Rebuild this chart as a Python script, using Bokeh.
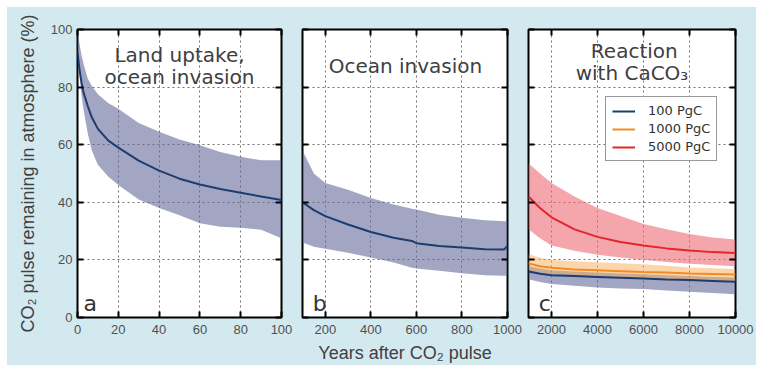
from bokeh.plotting import figure
from bokeh.layouts import row
from bokeh.models import (Range1d, LinearAxis, FixedTicker, CustomJSTickFormatter,
                          Legend, LegendItem)
from bokeh.core.properties import value
from bokeh.embed import file_html
from bokeh.resources import INLINE

# ---------------- data ----------------
years_a = [0, 1, 2, 3, 5, 7, 10, 15, 20, 30, 40, 50, 60, 70, 80, 90, 100]
mean_a = [92, 86, 81.5, 78, 73.5, 69.5, 65.5, 61.5, 59, 54.5, 51, 48.2, 46.2, 44.6, 43.3, 42, 40.8]
upper_a = [100, 95, 91, 88, 83, 80.5, 77.5, 74.5, 72.5, 67.5, 64.5, 61.8, 59.8, 57.5, 55.8, 54.6, 54.6]
lower_a = [92, 84, 77, 72, 64, 58, 53, 49, 46, 41, 38, 35.5, 32.7, 31.5, 31.2, 30.5, 27.5]

years_b = [100, 150, 200, 300, 400, 500, 580, 600, 700, 800, 900, 985, 1000]
mean_b = [40, 37.3, 35.2, 32.3, 29.7, 27.7, 26.6, 25.8, 24.8, 24.3, 23.7, 23.6, 24.8]
upper_b = [58, 50, 46.7, 44.4, 41.5, 39.2, 37.8, 37.5, 35.7, 34.6, 33.8, 33.4, 33.4]
lower_b = [26, 24.6, 23.9, 22.5, 20.8, 19.1, 17.3, 17, 16.2, 15.4, 14.7, 14.5, 14.5]

years_c = [1000, 1500, 2000, 3000, 4000, 5000, 6000, 7000, 8000, 9000, 10000]
mean_100 = [16, 15.2, 14.7, 14.4, 14.1, 13.8, 13.5, 13.2, 13, 12.7, 12.4]
upper_100 = [17.8, 17, 16.4, 16, 15.6, 15.3, 15, 14.7, 14.4, 14.1, 13.9]
lower_100 = [13.3, 12.3, 11.6, 11, 10.4, 10.1, 9.9, 9.4, 8.9, 8.5, 8.1]
mean_1000 = [18.8, 17.8, 17.3, 16.7, 16.4, 16.1, 15.8, 15.6, 15.3, 15.1, 14.9]
upper_1000 = [22, 20.8, 20, 19.5, 19.2, 18.8, 18.5, 18, 17.4, 17.1, 16.8]
lower_1000 = [16.5, 15.8, 15.3, 14.8, 14.4, 14, 13.6, 13.3, 13, 12.7, 12.4]
mean_5000 = [42, 38, 34.8, 30.6, 28, 26.2, 25, 24, 23.3, 22.7, 22.4]
upper_5000 = [53.6, 50, 46.7, 42, 38, 35.2, 32.5, 30.6, 29, 27.8, 27.1]
lower_5000 = [30.6, 27.5, 25, 23.2, 21.8, 20.8, 20, 19.3, 18.7, 18.2, 17.8]

series_labels = ["100 PgC", "1000 PgC", "5000 PgC"]
yticks = [0, 20, 40, 60, 80, 100]
xticks_a = [0, 20, 40, 60, 80, 100]
xticks_b = [200, 400, 600, 800, 1000]
xticks_c = [2000, 4000, 6000, 8000, 10000]

# ---------------- style ----------------
BG = "#d3e9f0"
NAVY = "#1c3d70"
ORANGE = "#f28a25"
RED = "#e4262c"
NAVY_BAND = "#666b99"
ORANGE_BAND = "#f9ad55"
RED_BAND = "#ed6b75"
TXT = "#404040"
TICK_FONT = "Liberation Sans"
TITLE_FONT = "DejaVu Sans"

H = 358
TOP, BOTTOM = 22, 47


def make_fig(width, left, right, xr):
    p = figure(width=width, height=H, output_backend="svg", toolbar_location=None,
               x_range=Range1d(*xr), y_range=Range1d(0, 100),
               min_border_left=left, min_border_right=right,
               min_border_top=TOP, min_border_bottom=BOTTOM,
               x_axis_location=None, y_axis_location=None)
    p.border_fill_color = BG
    p.background_fill_color = "white"
    p.outline_line_color = "black"
    p.outline_line_width = 2
    return p


def add_axes(p, xticks, xlabels, ylabels):
    for side in ["below", "above", "left", "right"]:
        ax = LinearAxis()
        if side in ("below", "above"):
            ax.ticker = FixedTicker(ticks=xticks, minor_ticks=[])
            show = xlabels and side == "below"
        else:
            ax.ticker = FixedTicker(ticks=yticks, minor_ticks=[])
            show = ylabels and side == "left"
        ax.axis_line_color = None
        ax.major_tick_line_color = "black"
        ax.major_tick_line_width = 2
        ax.major_tick_in = 6
        ax.major_tick_out = 0
        ax.minor_tick_line_color = None
        if show:
            ax.major_label_text_font = TICK_FONT
            ax.major_label_text_font_size = "13px"
            ax.major_label_text_color = "#505050"
            ax.major_label_standoff = 7 if side == "below" else 5
        else:
            ax.formatter = CustomJSTickFormatter(code="return ''")
            ax.major_label_standoff = 0
            ax.major_label_text_font_size = "1px"
        p.add_layout(ax, side)
    grid_kw = dict(grid_line_color="#707070", grid_line_dash="2 3", grid_line_width=1)
    p.xgrid.ticker = FixedTicker(ticks=xticks, minor_ticks=[])
    p.ygrid.ticker = FixedTicker(ticks=yticks, minor_ticks=[])
    for g in (p.xgrid, p.ygrid):
        for k, v in grid_kw.items():
            setattr(g, k, v)


def title(p, x, y, s):
    p.text(x=[x], y=[y], text=[s], text_font=value(TITLE_FONT), text_font_size="20px",
           text_align="center", text_baseline="alphabetic", text_color=TXT)


def letter(p, x, s):
    p.text(x=[x], y=[5], text=[s], text_font=value(TITLE_FONT), text_font_size="22px",
           text_align="left", text_baseline="alphabetic", text_color="#333333")


def label_style(ax, text, standoff):
    ax.axis_label = text
    ax.axis_label_text_font = TICK_FONT
    ax.axis_label_text_font_size = "18px"
    ax.axis_label_text_font_style = "normal"
    ax.axis_label_text_color = TXT
    ax.axis_label_standoff = standoff


# ---------------- panel a ----------------
fa = make_fig(291, 70, 17, (0, 100))
fa.varea(x=years_a, y1=lower_a, y2=upper_a, fill_color=NAVY_BAND, fill_alpha=0.6)
fa.line(years_a, mean_a, line_color=NAVY, line_width=2)
add_axes(fa, xticks_a, True, True)
label_style(fa.left[0], "CO\u2082 pulse remaining in atmosphere (%)", 10)
title(fa, 50, 91.2, "Land uptake,")
title(fa, 50, 83.5, "ocean invasion")
letter(fa, 3, "a")

# ---------------- panel b ----------------
fb = make_fig(226, 4, 17, (100, 1000))
fb.varea(x=years_b, y1=lower_b, y2=upper_b, fill_color=NAVY_BAND, fill_alpha=0.6)
fb.line(years_b, mean_b, line_color=NAVY, line_width=2)
add_axes(fb, xticks_b, True, False)
label_style(fb.below[0], "Years after CO\u2082 pulse", 6)
title(fb, 552, 87.3, "Ocean invasion")
letter(fb, 145, "b")

# ---------------- panel c ----------------
fc = make_fig(232, 4, 21, (1000, 10000))
fc.varea(x=years_c, y1=lower_100, y2=upper_100, fill_color=NAVY_BAND, fill_alpha=0.6)
fc.varea(x=years_c, y1=lower_1000, y2=upper_1000, fill_color=ORANGE_BAND, fill_alpha=0.5)
fc.varea(x=years_c, y1=lower_5000, y2=upper_5000, fill_color=RED_BAND, fill_alpha=0.6)
l100 = fc.line(years_c, mean_100, line_color=NAVY, line_width=2)
l1000 = fc.line(years_c, mean_1000, line_color=ORANGE, line_width=2)
l5000 = fc.line(years_c, mean_5000, line_color=RED, line_width=2)
add_axes(fc, xticks_c, True, False)
title(fc, 5600, 92.5, "Reaction")
title(fc, 5500, 84.9, "with CaCO\u2083")
letter(fc, 1450, "c")

legend = Legend(items=[LegendItem(label=l, renderers=[r])
                       for l, r in zip(series_labels, [l100, l1000, l5000])],
                location=(77, 156), orientation="vertical")
legend.label_text_font = TITLE_FONT
legend.label_text_font_size = "13px"
legend.label_text_color = "#333333"
legend.glyph_width = 23
legend.glyph_height = 14
legend.label_height = 14
legend.label_standoff = 13
legend.padding = 6
legend.spacing = 3
legend.margin = 0
legend.border_line_color = "#333333"
legend.border_line_width = 1.5
legend.background_fill_color = "white"
legend.background_fill_alpha = 1
fc.add_layout(legend)

layout = row(fa, fb, fc, spacing=0, margin=(7, 0, 0, 7), styles={"background-color": BG})

open("out.html", "w").write(file_html(layout, INLINE))
